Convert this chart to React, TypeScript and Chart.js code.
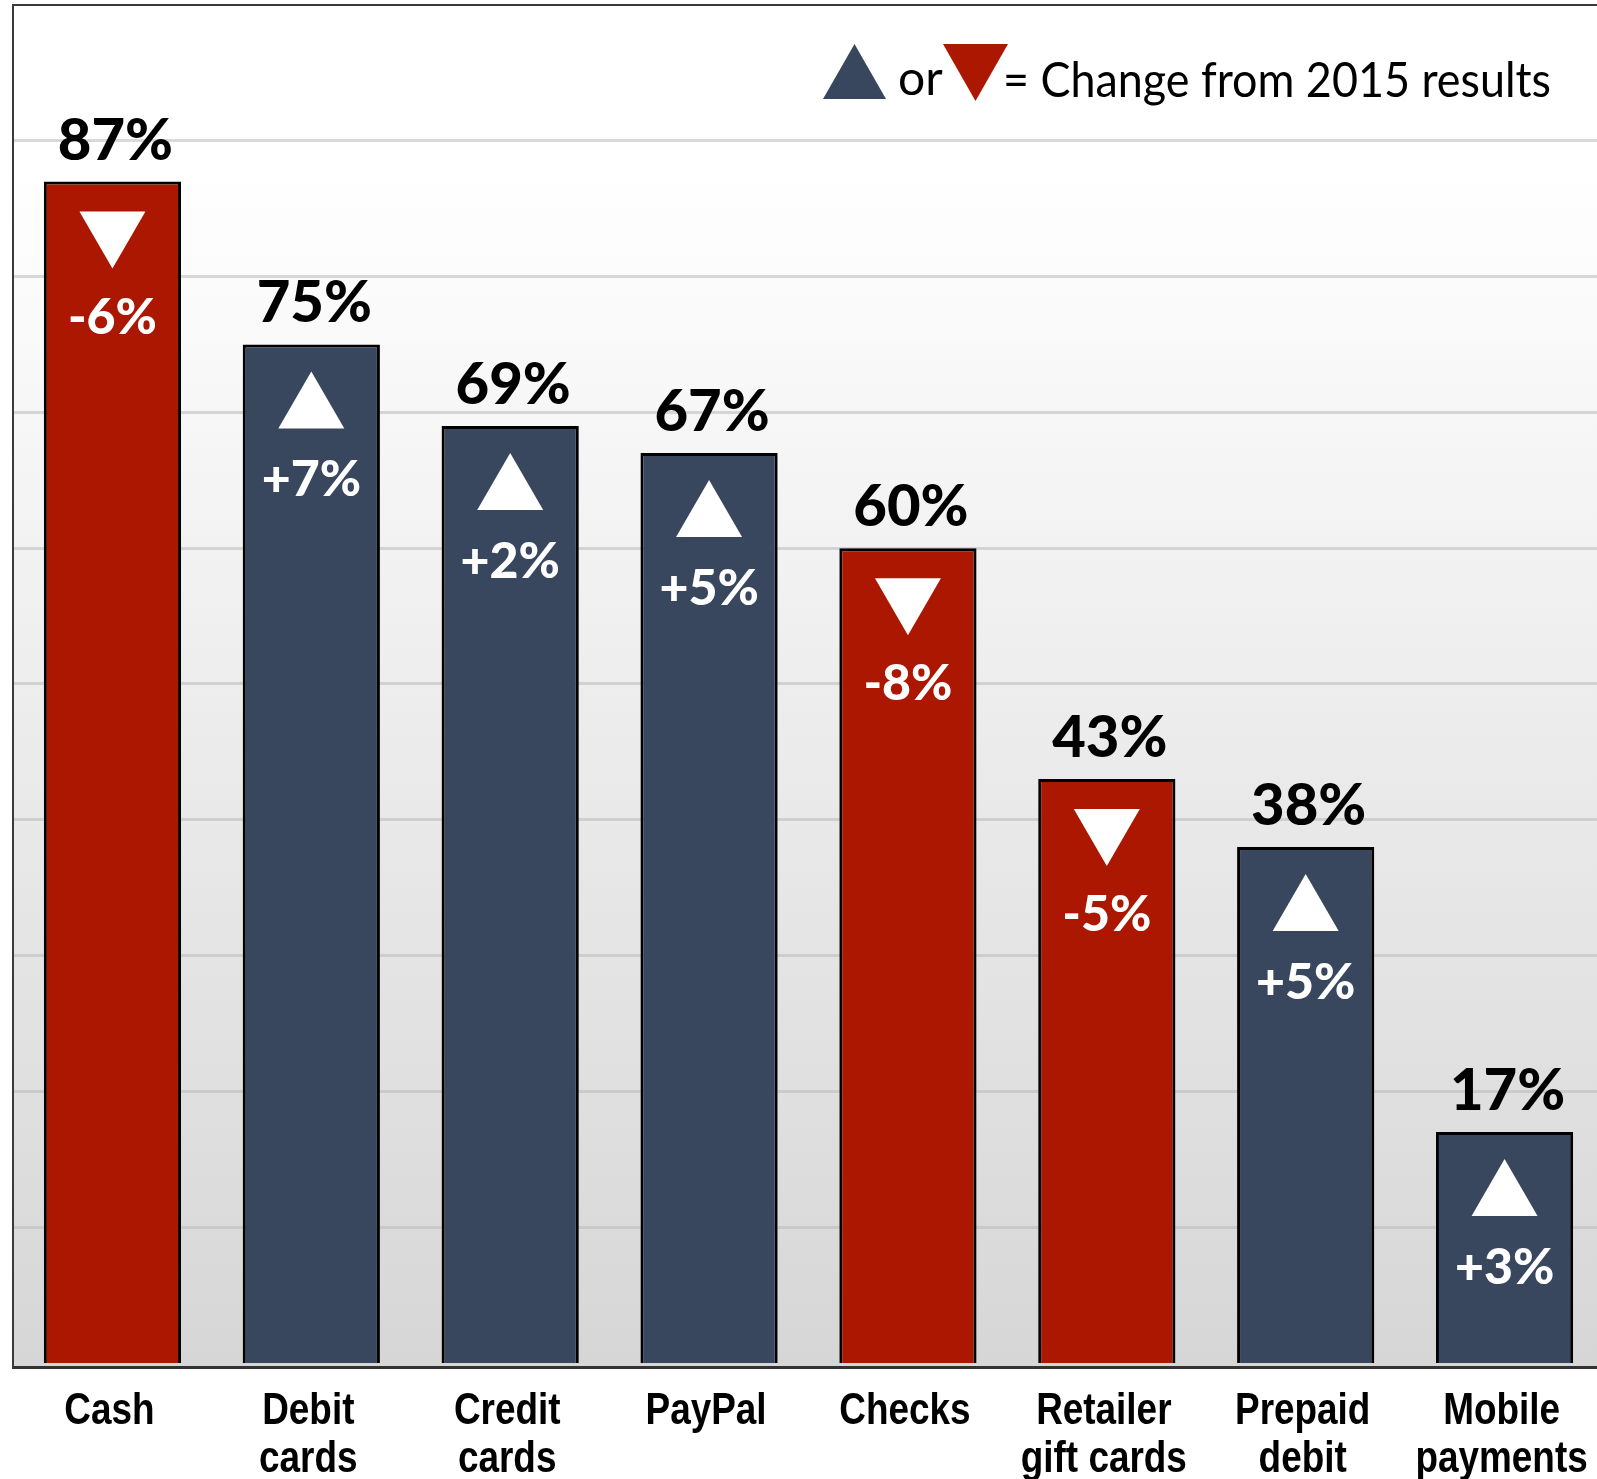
import React, { useEffect, useRef } from 'react';
import { Chart, registerables } from 'chart.js';

Chart.register(...registerables);

const categories: string[][] = [
  ['Cash'],
  ['Debit', 'cards'],
  ['Credit', 'cards'],
  ['PayPal'],
  ['Checks'],
  ['Retailer', 'gift cards'],
  ['Prepaid', 'debit'],
  ['Mobile', 'payments'],
];
const values = [87, 75, 69, 67, 60, 43, 38, 17];
const changes = [-6, 7, 2, 5, -8, -5, 5, 3];
const gridValues = [10, 20, 30, 40, 50, 60, 70, 80, 90];
const legendText = '= Change from 2015 results';
const legendOr = 'or';

const RED = '#AB1700';
const NAVY = '#38475E';

const W = 1620;
const H = 1479;

const bgPlugin = {
  id: 'bgGradient',
  beforeDraw(chart: any) {
    const { ctx, chartArea: a } = chart;
    ctx.save();
    ctx.fillStyle = '#ffffff';
    ctx.fillRect(0, 0, chart.width, chart.height);
    const g = ctx.createLinearGradient(0, a.top, 0, a.bottom);
    g.addColorStop(0, '#ffffff');
    g.addColorStop(0.12, '#ffffff');
    g.addColorStop(1, '#d6d6d6');
    ctx.fillStyle = g;
    ctx.fillRect(a.left, a.top, a.right - a.left, a.bottom - a.top);
    ctx.restore();
  },
};

const annotPlugin = {
  id: 'annot',
  afterDatasetsDraw(chart: any) {
    const { ctx } = chart;
    const meta = chart.getDatasetMeta(0);
    ctx.save();
    ctx.textAlign = 'center';
    ctx.textBaseline = 'alphabetic';
    meta.data.forEach((bar: any, i: number) => {
      const x = bar.x;
      const y = bar.y;
      ctx.fillStyle = '#000000';
      ctx.font = '900 58px Lato';
      ctx.fillText(values[i] + '%', x + 3, y - 22);
      const w = 66;
      const h = 57;
      ctx.fillStyle = '#ffffff';
      ctx.beginPath();
      if (changes[i] >= 0) {
        ctx.moveTo(x, y + 27);
        ctx.lineTo(x + w / 2, y + 27 + h);
        ctx.lineTo(x - w / 2, y + 27 + h);
      } else {
        ctx.moveTo(x - w / 2, y + 30);
        ctx.lineTo(x + w / 2, y + 30);
        ctx.lineTo(x, y + 30 + h);
      }
      ctx.closePath();
      ctx.fill();
      ctx.font = '900 50px Lato';
      ctx.fillText((changes[i] > 0 ? '+' : '') + changes[i] + '%', x, y + 152);
    });
    ctx.restore();
  },
  afterDraw(chart: any) {
    const { ctx, chartArea: a } = chart;
    ctx.save();
    // frame (top + left)
    ctx.strokeStyle = '#3a3a3a';
    ctx.lineWidth = 2;
    ctx.beginPath();
    ctx.moveTo(a.left, a.bottom);
    ctx.lineTo(a.left, a.top);
    ctx.lineTo(chart.width, a.top);
    ctx.stroke();

    // category labels at the x scale's tick positions (narrow bold)
    const xs = chart.scales.x;
    ctx.fillStyle = '#000000';
    ctx.font = 'bold 45px "Liberation Sans", Arial, sans-serif';
    ctx.textAlign = 'center';
    ctx.textBaseline = 'alphabetic';
    const labels = chart.data.labels as string[][];
    labels.forEach((lines, i) => {
      const px = xs.getPixelForTick(i) - 3;
      lines.forEach((line, j) => {
        ctx.save();
        ctx.translate(px, a.bottom + 57 + j * 48);
        ctx.scale(0.82, 1);
        ctx.fillText(line, 0, 0);
        ctx.restore();
      });
    });

    // legend
    ctx.fillStyle = NAVY;
    ctx.beginPath();
    ctx.moveTo(823, 99);
    ctx.lineTo(886, 99);
    ctx.lineTo(854.5, 44);
    ctx.closePath();
    ctx.fill();
    ctx.fillStyle = RED;
    ctx.beginPath();
    ctx.moveTo(943, 44);
    ctx.lineTo(1008, 44);
    ctx.lineTo(975.5, 101);
    ctx.closePath();
    ctx.fill();
    ctx.fillStyle = '#000000';
    ctx.font = '48px Lato';
    ctx.textAlign = 'left';
    ctx.textBaseline = 'alphabetic';
    ctx.fillText(legendOr, 898, 95);
    ctx.fillText(legendText, 1003, 97, 548);
    ctx.restore();
  },
};

export default function App() {
  const ref = useRef<HTMLCanvasElement | null>(null);
  useEffect(() => {
    if (!ref.current) return;
    const chart = new Chart(ref.current, {
      type: 'bar',
      data: {
        labels: categories,
        datasets: [
          {
            data: values,
            backgroundColor: changes.map((c) => (c < 0 ? RED : NAVY)),
            borderColor: '#000000',
            borderWidth: 3,
            categoryPercentage: 1,
            barPercentage: 0.69,
          },
        ],
      },
      options: {
        responsive: false,
        animation: false,
        devicePixelRatio: 1,
        layout: { padding: { left: 13, top: 5, right: 16, bottom: 0 } },
        plugins: {
          legend: { display: false },
          tooltip: { enabled: false },
        },
        scales: {
          x: {
            grid: { display: false, drawTicks: false },
            border: { display: true, color: '#333333', width: 3 },
            ticks: { display: false, autoSkip: false },
            afterFit: (scale: any) => {
              scale.height = 112;
            },
          },
          y: {
            min: -0.3,
            max: 100,
            ticks: { display: false },
            border: { display: false },
            afterBuildTicks: (scale: any) => {
              scale.ticks = gridValues.map((v) => ({ value: v }));
            },
            grid: {
              drawTicks: false,
              lineWidth: 3,
              color: 'rgba(185,185,185,0.55)',
            },
            afterFit: (scale: any) => {
              scale.width = 0;
            },
          },
        },
      },
      plugins: [bgPlugin, annotPlugin],
    });
    return () => chart.destroy();
  }, []);
  return (
    <div
      style={{
        position: 'fixed',
        left: 0,
        top: 0,
        width: 1597,
        height: 1479,
        overflow: 'hidden',
        background: '#ffffff',
      }}
    >
      <canvas ref={ref} width={W} height={H} style={{ display: 'block', width: W, height: H }} />
    </div>
  );
}
